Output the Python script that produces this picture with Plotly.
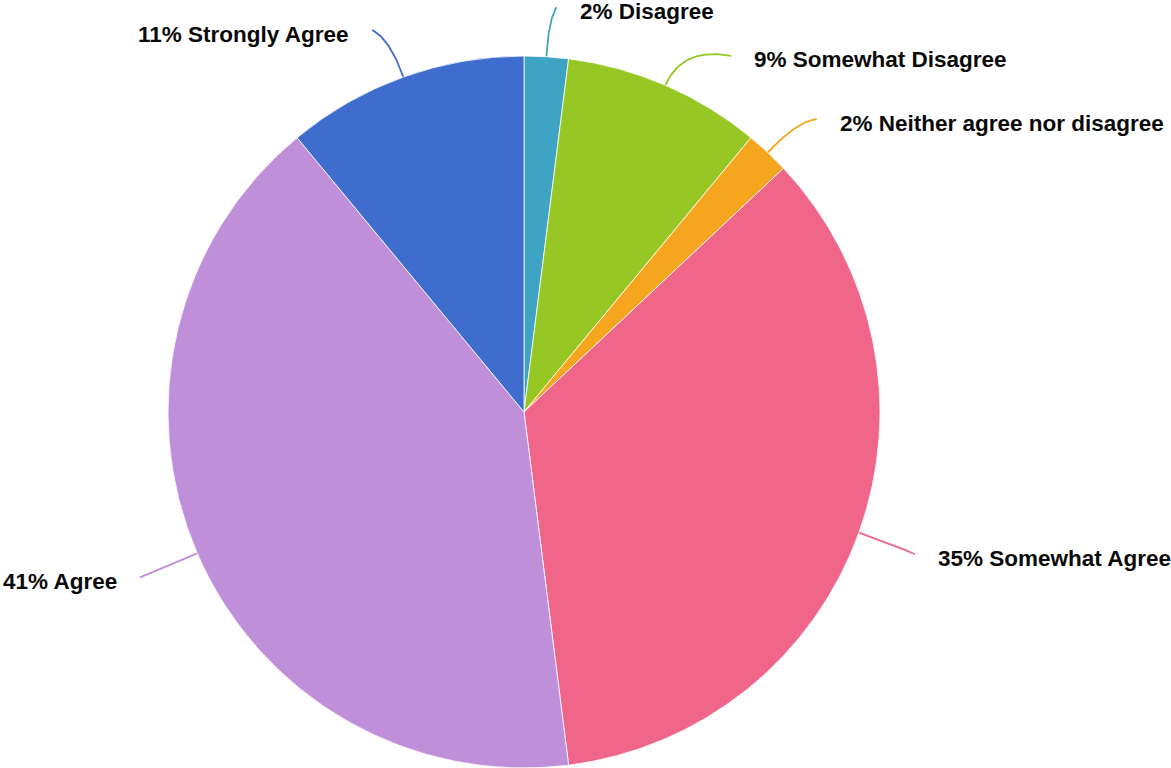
import numpy as np
import plotly.graph_objects as go

# ---- data ----
categories = ["Disagree", "Somewhat Disagree", "Neither agree nor disagree",
              "Somewhat Agree", "Agree", "Strongly Agree"]
values = [2, 9, 2, 35, 41, 11]
colors = ["#3fa3c4", "#96c725", "#f5a51e", "#f06688", "#bf8fda", "#3e6dcd"]

# ---- layout config (pixels) ----
W, H = 1171, 768
cx, cy, R = 524, 412, 356
label_ext = [50, 56, 58, 60, 62, 55]          # radial distance of leader end beyond the rim
label_shift = [1.0, 6.8, 1.8, 0.2, 0.1, -1.9]  # angular nudge for label collision avoidance
FONT = "Liberation Sans, Arial, Helvetica, sans-serif"

fig = go.Figure()

total = float(sum(values))
cum = np.cumsum(values)
annotations = []
for i, (cat, v) in enumerate(zip(categories, values)):
    mid = np.deg2rad((cum[i] - v / 2.0) / total * 360.0)
    end_ang = mid + np.deg2rad(label_shift[i])
    ux, uy = np.sin(mid), -np.cos(mid)
    p0 = np.array([cx + R * ux, cy + R * uy])
    rr = R + label_ext[i]
    p2 = np.array([cx + rr * np.sin(end_ang), cy - rr * np.cos(end_ang)])
    p1 = p0 + np.array([ux, uy]) * label_ext[i] * 0.75
    t = np.linspace(0, 1, 40)[:, None]
    pts = (1 - t) ** 2 * p0 + 2 * (1 - t) * t * p1 + t ** 2 * p2
    fig.add_trace(go.Scatter(x=pts[:, 0], y=pts[:, 1], mode="lines",
                             line=dict(color=colors[i], width=1.8),
                             hoverinfo="skip", showlegend=False))
    right = np.sin(end_ang) >= 0
    pct = round(v / total * 100)
    annotations.append(dict(
        x=p2[0], y=p2[1], xref="x", yref="y",
        text=f"{pct}% {cat}", showarrow=False,
        xanchor="left" if right else "right", yanchor="middle",
        xshift=21 if right else -21, yshift=-4,
        font=dict(family=FONT, size=22.5, color="#0a0a0a", weight="bold"),
    ))

fig.add_trace(go.Pie(
    labels=categories, values=values, sort=False, direction="clockwise",
    rotation=0, textinfo="none",
    marker=dict(colors=colors, line=dict(color="#ffffff", width=0.8)),
    domain=dict(x=[(cx - R) / W, (cx + R) / W], y=[1 - (cy + R) / H, 1 - (cy - R) / H]),
    showlegend=False,
))

fig.update_layout(
    width=W, height=H,
    margin=dict(l=0, r=0, t=0, b=0),
    paper_bgcolor="white", plot_bgcolor="white",
    xaxis=dict(range=[0, W], visible=False, fixedrange=True),
    yaxis=dict(range=[H, 0], visible=False, fixedrange=True),
    annotations=annotations,
    showlegend=False,
)

fig.write_html("out.html", config={"displayModeBar": False},
               post_script="document.body.style.margin='0';document.body.style.overflow='hidden';")
